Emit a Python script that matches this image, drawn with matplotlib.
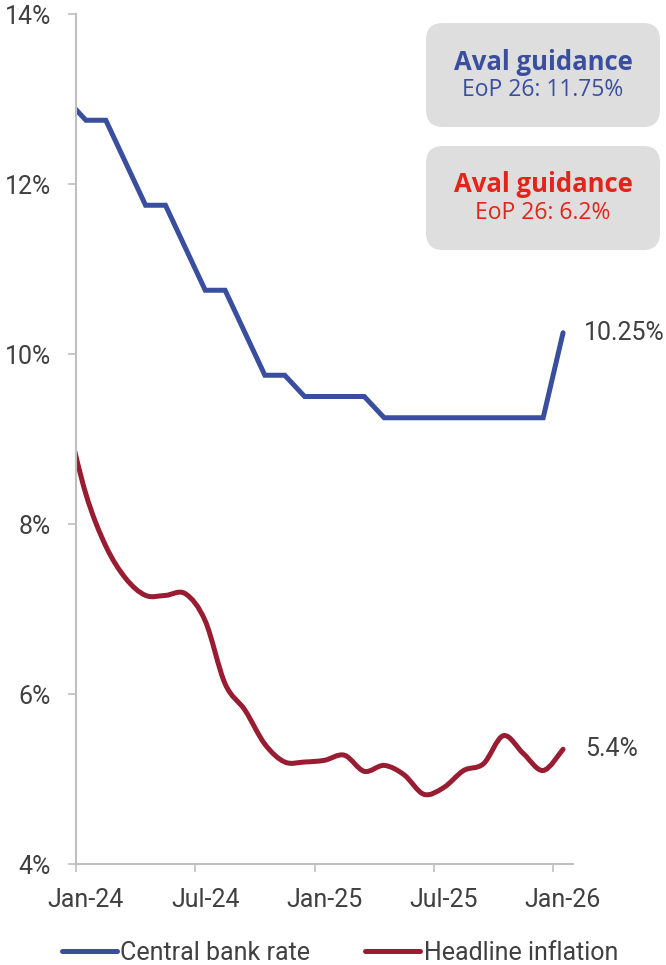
import numpy as np
import pandas as pd
import matplotlib
matplotlib.use("Agg")
import matplotlib.pyplot as plt
from matplotlib.path import Path
from matplotlib.patches import PathPatch, FancyBboxPatch
from matplotlib.lines import Line2D

# monthly data, Dec-23 .. Jan-26
months = pd.period_range("2023-12", "2026-01", freq="M")
policy_rate = [13.0, 12.75, 12.75, 12.25, 11.75, 11.75, 11.25, 10.75, 10.75, 10.25, 9.75, 9.75, 9.5,
               9.5, 9.5, 9.5, 9.25, 9.25, 9.25, 9.25, 9.25, 9.25, 9.25, 9.25, 9.25,
               10.25]
inflation = [9.28, 8.35, 7.74, 7.36, 7.16, 7.16, 7.18, 6.86, 6.12, 5.81, 5.41, 5.20, 5.20,
             5.22, 5.28, 5.09, 5.16, 5.05, 4.82, 4.90, 5.10, 5.18, 5.51, 5.30, 5.10,
             5.35]
end_labels = ["10.25%", "5.4%"]
series_names = ["Central bank rate", "Headline inflation"]
tick_labels = ["Jan-24", "Jul-24", "Jan-25", "Jul-25", "Jan-26"]
yticks = [4, 6, 8, 10, 12, 14]
guidance = [("Aval guidance", "EoP 26: 11.75%"), ("Aval guidance", "EoP 26: 6.2%")]

BLUE = "#3A4E9E"
RED = "#981C32"
GREY = "#BFBFBF"
TXT = "#404040"
FS = 18
plt.rcParams["font.family"] = ["Roboto", "DejaVu Sans"]

# months since Jan-24, plotted at mid-month
base = pd.Period("2024-01", freq="M")
x = np.array([(m - base).n for m in months]) + 0.5


def smooth_path(xs, ys):
    # catmull-rom style bezier, like excel's smoothed line
    pts = np.column_stack([xs, ys])
    n = len(pts)
    verts = [pts[0]]
    codes = [Path.MOVETO]
    for i in range(n - 1):
        p0 = pts[max(i - 1, 0)]
        p1 = pts[i]
        p2 = pts[i + 1]
        p3 = pts[min(i + 2, n - 1)]
        verts += [p1 + (p2 - p0) / 6, p2 - (p3 - p1) / 6, p2]
        codes += [Path.CURVE4] * 3
    return Path(verts, codes)


fig = plt.figure(figsize=(6.66, 9.65), dpi=100)
ax = fig.add_axes([76 / 666, 1 - 864 / 965, (573 - 76) / 666, (864 - 14) / 965])

ax.plot(x, policy_rate, color=BLUE, lw=3.6, solid_joinstyle="miter", solid_capstyle="round")
ax.add_patch(PathPatch(smooth_path(x, inflation), fc="none", ec=RED, lw=3.6, capstyle="round"))

ax.set_xlim(0, 25)
ax.set_ylim(4, 14)

ax.set_xticks([0, 6, 12, 18, 24])
ax.set_xticklabels([])
ax.set_xticks([0.5, 6.5, 12.5, 18.5, 24.5], minor=True)
ax.set_xticklabels(tick_labels, minor=True)
ax.tick_params(axis="x", which="major", length=6, width=1.2, color=GREY, direction="out")
ax.tick_params(axis="x", which="minor", length=0, pad=17, labelsize=FS, labelcolor=TXT)

ax.set_yticks(yticks)
ax.set_yticklabels([f"{v}%" for v in yticks])
ax.tick_params(axis="y", length=6, width=1.2, color=GREY, pad=12, labelsize=FS, labelcolor=TXT)

for s in ["top", "right"]:
    ax.spines[s].set_visible(False)
for s in ["left", "bottom"]:
    ax.spines[s].set_color(GREY)
    ax.spines[s].set_linewidth(1.5)

# end of line labels
ax.annotate(end_labels[0], (x[-1], policy_rate[-1]), xytext=(15, 0), textcoords="offset points",
            va="center", ha="left", fontsize=FS, color=TXT, annotation_clip=False)
ax.annotate(end_labels[1], (x[-1], inflation[-1]), xytext=(16, 0), textcoords="offset points",
            va="center", ha="left", fontsize=FS, color=TXT, annotation_clip=False)

# guidance boxes
box_cols = [BLUE, "#E3241B"]
for i, (head, sub) in enumerate(guidance):
    top = [0.23, 1.46][i]
    fig.add_artist(FancyBboxPatch((4.26, 9.65 - top - 1.04), 2.34, 1.04,
                                  boxstyle="round,pad=0,rounding_size=0.17",
                                  transform=fig.dpi_scale_trans, fc="#DEDEDE", ec="none"))
    fig.text(5.43 / 6.66, (9.65 - top - 0.39) / 9.65, head, ha="center", va="center",
             family=["Open Sans", "DejaVu Sans"], fontweight="bold", fontsize=18.5, color=box_cols[i])
    fig.text(5.43 / 6.66, (9.65 - top - 0.67) / 9.65, sub, ha="center", va="center",
             family=["Open Sans", "DejaVu Sans"], fontsize=16.5, color=box_cols[i])

handles = [Line2D([], [], color=BLUE, lw=3.6, solid_capstyle="round"),
           Line2D([], [], color=RED, lw=3.6, solid_capstyle="round")]
fig.legend(handles, series_names, loc="center", bbox_to_anchor=(340 / 666, 1 - 953 / 965),
           ncol=2, frameon=False, fontsize=FS, handlelength=2.2, handletextpad=0.15,
           columnspacing=2.2, labelcolor=TXT)

fig.savefig("out.png", dpi=100)
